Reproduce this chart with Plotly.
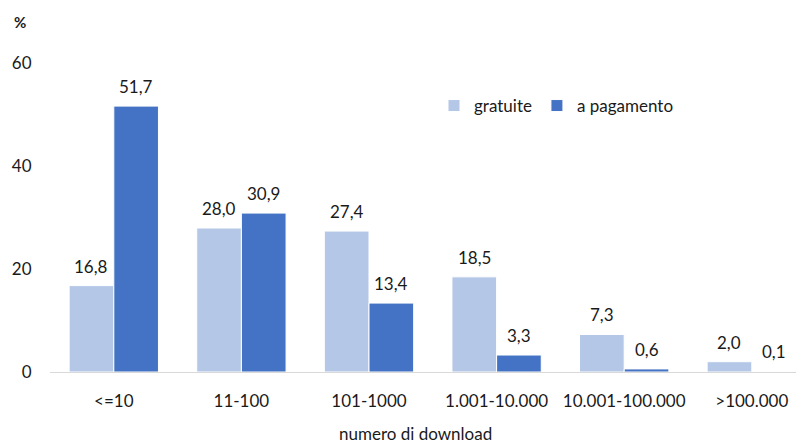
import plotly.graph_objects as go

categories = ["<=10", "11-100", "101-1000", "1.001-10.000", "10.001-100.000", ">100.000"]
gratuite = [16.8, 28.0, 27.4, 18.5, 7.3, 2.0]
a_pagamento = [51.7, 30.9, 13.4, 3.3, 0.6, 0.1]
y_ticks = [0, 20, 40, 60]

FONT = "Lato"
FS = 17
TXT = "#1a1a1a"
LIGHT = "#B4C7E7"
DARK = "#4472C4"

xs = list(range(len(categories)))

fig = go.Figure()
fig.add_trace(go.Bar(x=xs, y=gratuite, name="gratuite", marker=dict(color=LIGHT, line=dict(color="white", width=1))))
fig.add_trace(go.Bar(x=xs, y=a_pagamento, name="a pagamento", marker=dict(color=DARK, line=dict(color="white", width=1))))

W = 0.35
def fmt(v):
    return f"{v:.1f}".replace(".", ",")

annotations = []
for i, v in enumerate(gratuite):
    annotations.append(dict(x=i - W / 2, y=v, xref="x", yref="y", text=fmt(v), showarrow=False,
                            yanchor="bottom", yshift=7, font=dict(family=FONT, size=FS, color=TXT)))
for i, v in enumerate(a_pagamento):
    annotations.append(dict(x=i + W / 2, y=v, xref="x", yref="y", text=fmt(v), showarrow=False,
                            yanchor="bottom", yshift=7, font=dict(family=FONT, size=FS, color=TXT)))
annotations.append(dict(x=12, y=22, xref="paper", yref="paper", text="<b>%</b>", showarrow=False,
                        xanchor="left", yanchor="middle", font=dict(family=FONT, size=15, color=TXT)))
annotations.append(dict(x=415, y=433, xref="paper", yref="paper", text="numero di download", showarrow=False,
                        xanchor="center", yanchor="middle", font=dict(family=FONT, size=FS, color=TXT)))

# convert pixel-placed paper annotations
L, R, T, B = 50, 0, 12, 71
PW, PH = 796 - L - R, 443 - T - B
for a in annotations[-2:]:
    a["x"] = (a["x"] - L) / PW
    a["y"] = (443 - B - a["y"]) / PH

fig.update_layout(
    width=796, height=443,
    margin=dict(l=L, r=R, t=T, b=B),
    paper_bgcolor="white", plot_bgcolor="white",
    barmode="group", bargap=0.30, bargroupgap=0,
    font=dict(family=FONT, size=FS, color=TXT),
    showlegend=True,
    legend=dict(orientation="h", x=(434 - L) / PW, y=(443 - B - 106) / PH, xanchor="left", yanchor="middle",
                font=dict(family=FONT, size=FS, color=TXT), bgcolor="rgba(0,0,0,0)",
                itemwidth=30, traceorder="normal"),
    annotations=annotations,
)
fig.update_xaxes(
    range=[-0.5, -0.5 + PW / 127.6], tickmode="array", tickvals=xs, ticktext=categories,
    showgrid=False, zeroline=False, showline=True, linecolor="#D9D9D9", linewidth=1,
    ticks="outside", ticklen=0, ticklabelstandoff=14, tickfont=dict(family=FONT, size=FS, color=TXT),
)
fig.update_yaxes(
    range=[0, 70], tickmode="array", tickvals=y_ticks, showgrid=False, zeroline=False, showline=False,
    ticks="outside", ticklen=0, ticklabelstandoff=14, tickfont=dict(family=FONT, size=FS, color=TXT),
)

fig.write_html("out.html", config={"displayModeBar": False},
               post_script="document.body.style.margin='0';document.body.style.overflow='hidden';")
